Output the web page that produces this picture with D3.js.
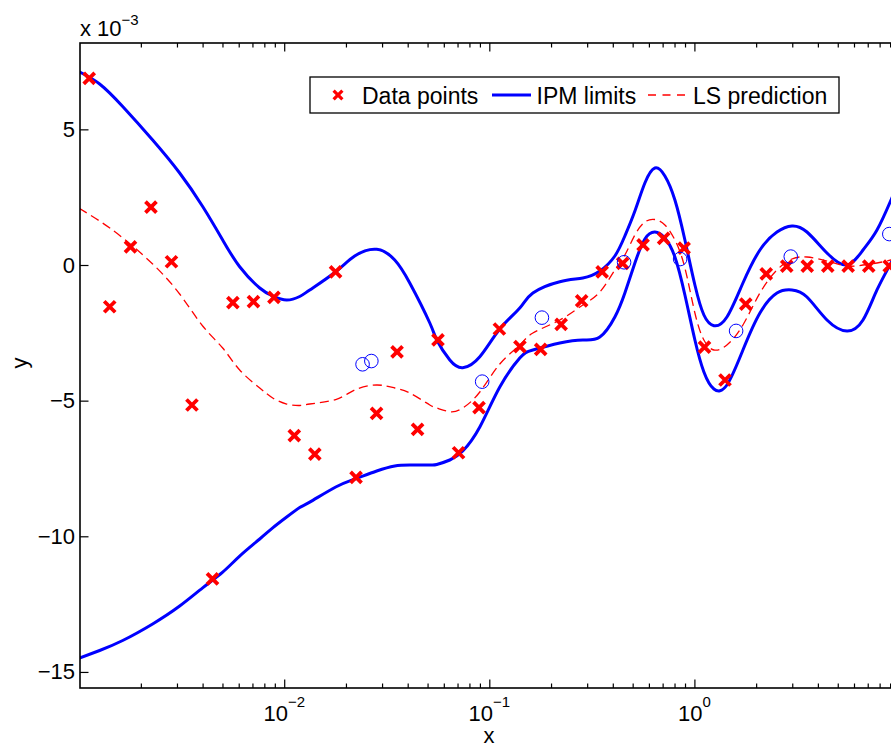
<!DOCTYPE html>
<html>
<head>
<meta charset="utf-8">
<script src="https://cdn.jsdelivr.net/npm/d3@7"></script>
<style>
  body { margin: 0; background: #fff; }
  svg { display: block; }
  text { font-family: "Liberation Sans", Arial, Helvetica, sans-serif; fill: #000; }
</style>
</head>
<body>
<svg id="chart" width="891" height="744"></svg>
<script>
// ---- data (y values in units of 10^-3) ----
const pointX = [0.00112, 0.00141, 0.00178, 0.00224, 0.00282, 0.00355, 0.00447, 0.00562, 0.00708, 0.00891,
                0.0112, 0.0141, 0.0178, 0.0224, 0.0282, 0.0355, 0.0447, 0.0562, 0.0708, 0.0891,
                0.112, 0.141, 0.178, 0.224, 0.282, 0.355, 0.447, 0.562, 0.708, 0.891,
                1.12, 1.41, 1.78, 2.24, 2.82, 3.55, 4.47, 5.62, 7.08, 8.91];
const pointY = [6.88, -1.54, 0.67, 2.13, 0.12, -5.16, -11.57, -1.39, -1.35, -1.19,
                -6.29, -6.97, -0.25, -7.83, -5.47, -3.20, -6.06, -2.76, -6.92, -5.26,
                -2.36, -3.01, -3.11, -2.19, -1.32, -0.25, 0.06, 0.74, 0.98, 0.62,
                -3.03, -4.24, -1.44, -0.33, -0.04, -0.04, -0.04, -0.04, -0.04, -0.04];

const circleX = [0.0241, 0.0266, 0.0923, 0.1805, 0.454, 0.852, 1.597, 2.95, 8.92];
const circleY = [-3.66, -3.54, -4.30, -1.94, 0.10, 0.22, -2.43, 0.31, 1.14];

const curveX = [0.001, 0.001259, 0.001631, 0.002283, 0.003092, 0.004003, 0.005012, 0.006066, 0.007597, 0.008789,
                0.01028, 0.0119, 0.01332, 0.01783, 0.02207, 0.02826, 0.03459, 0.04094, 0.05127, 0.05545,
                0.06418, 0.07425, 0.08989, 0.1125, 0.1408, 0.1631, 0.2207, 0.2858, 0.3459, 0.4094,
                0.4581, 0.5127, 0.5735, 0.6418, 0.7179, 0.8034, 0.8989, 1.0056, 1.1125, 1.2448,
                1.4405, 1.7243, 2.0867, 2.5264, 2.9898, 3.5383, 4.4299, 5.5454, 6.6374, 7.7661,
                9.0888, 10];
const ipmUpper = [7.125, 6.672, 5.842, 4.607, 3.391, 2.156, 0.921, -0.063, -0.848, -1.143,
                  -1.290, -1.161, -0.921, -0.247, 0.332, 0.579, 0.184, -0.663, -2.138, -2.764,
                  -3.502, -3.785, -3.380, -2.359, -1.585, -1.032, -0.616, -0.479, -0.221, 0.332,
                  1.069, 1.990, 3.022, 3.575, 3.280, 2.396, 0.921, -0.737, -1.843, -2.237,
                  -1.917, -0.663, 0.553, 1.216, 1.438, 1.216, 0.442, 0.000, 0.553, 1.290,
                  2.396, 3.133];
const ipmLower = [-14.497, -14.21, -13.84, -13.23, -12.57, -11.90, -11.32, -10.73, -10.10, -9.69,
                  -9.29, -8.94, -8.74, -8.183, -7.888, -7.593, -7.409, -7.372, -7.372, -7.354,
                  -7.188, -6.856, -5.971, -4.497, -3.428, -3.133, -2.875, -2.764, -2.654, -1.917,
                  -1.032, 0.074, 0.958, 1.216, 0.995, 0.295, -1.106, -2.764, -3.944, -4.571,
                  -4.423, -3.133, -1.769, -1.032, -0.921, -1.180, -2.027, -2.433, -2.027, -0.921,
                  0.074, 0.737];
const lsPrediction = [2.090, 1.62, 1.00, 0.037, -1.069, -2.248, -3.059, -3.870, -4.534, -4.902,
                      -5.124, -5.179, -5.124, -4.958, -4.607, -4.423, -4.534, -4.718, -5.160, -5.271,
                      -5.407, -5.271, -4.681, -3.649, -2.949, -2.506, -2.027, -1.474, -0.995, -0.184,
                      0.369, 1.106, 1.585, 1.677, 1.474, 0.921, -0.111, -1.769, -2.764, -3.133,
                      -2.949, -2.212, -1.032, -0.184, 0.221, 0.295, 0.147, -0.037, 0.000, 0.074,
                      0.184, 0.258];

const yTickValues = [-15, -10, -5, 0, 5];
const xMajorTicks = [0.01, 0.1, 1];
const xTickExponents = ["\u22122", "\u22121", "0"];
const legendLabels = ["Data points", "IPM limits", "LS prediction"];

// ---- layout ----
const svg = d3.select("#chart");
const L = 80, R = 899.5, T = 43, B = 688;

const x = d3.scaleLog().domain([1.01e-3, 10]).range([L, R]);
const y = d3.scaleLinear().domain([-15.592, 8.183]).range([B, T]);

svg.append("rect").attr("width", 891).attr("height", 744).attr("fill", "#fff");

svg.append("defs").append("clipPath").attr("id", "plotClip")
  .append("rect").attr("x", L).attr("y", T).attr("width", R - L).attr("height", B - T);

// ---- axes (ticks pointing inward, boxed) ----
const minorTicks = x.ticks().filter(v => Math.abs(Math.log10(v) - Math.round(Math.log10(v))) > 1e-9);

function styleAxis(g) {
  g.select(".domain").remove();
  g.selectAll(".tick line").attr("stroke", "#000").attr("stroke-width", 1.2);
}

svg.append("g").attr("transform", `translate(0,${B})`)
  .call(d3.axisBottom(x).tickValues(minorTicks).tickSize(-4.5).tickFormat(""))
  .call(styleAxis);
svg.append("g").attr("transform", `translate(0,${B})`)
  .call(d3.axisBottom(x).tickValues(xMajorTicks).tickSize(-8.5).tickFormat(""))
  .call(styleAxis);
svg.append("g").attr("transform", `translate(0,${T})`)
  .call(d3.axisTop(x).tickValues(minorTicks).tickSize(-4.5).tickFormat(""))
  .call(styleAxis);
svg.append("g").attr("transform", `translate(0,${T})`)
  .call(d3.axisTop(x).tickValues(xMajorTicks).tickSize(-8.5).tickFormat(""))
  .call(styleAxis);

const yAxisG = svg.append("g").attr("transform", `translate(${L},0)`)
  .call(d3.axisLeft(y).tickValues(yTickValues).tickSize(-8.5).tickPadding(5)
    .tickFormat(d => d < 0 ? "\u2212" + Math.abs(d) : String(d)))
  .call(styleAxis);
yAxisG.selectAll(".tick text")
  .attr("font-size", 22).attr("fill", "#000")
  .attr("font-family", "'Liberation Sans', Arial, Helvetica, sans-serif");

svg.append("g").attr("transform", `translate(${R},0)`)
  .call(d3.axisRight(y).tickValues(yTickValues).tickSize(-8.5).tickFormat(""))
  .call(styleAxis);

// x tick labels: 10 with superscript exponent
xMajorTicks.forEach((v, i) => {
  const t = svg.append("text")
    .attr("x", x(v)).attr("y", 721)
    .attr("text-anchor", "middle")
    .attr("font-size", 22);
  t.append("tspan").text("10");
  t.append("tspan").attr("dy", -14).attr("font-size", 15).text(xTickExponents[i]);
});

// exponent multiplier above the y axis
const mult = svg.append("text").attr("x", L).attr("y", 36).attr("font-size", 22);
mult.append("tspan").text("x 10");
mult.append("tspan").attr("dy", -11).attr("font-size", 15).text("\u22123");

// axis labels
svg.append("text").attr("x", 489).attr("y", 743).attr("text-anchor", "middle")
  .attr("font-size", 22).text("x");
svg.append("text").attr("transform", "translate(27,363) rotate(-90)")
  .attr("text-anchor", "middle").attr("font-size", 22).text("y");

// ---- curves ----
const plot = svg.append("g").attr("clip-path", "url(#plotClip)");
const line = d3.line()
  .x(d => x(d[0])).y(d => y(d[1]))
  .curve(d3.curveNatural);

const upperPts = curveX.map((v, i) => [v, ipmUpper[i]]);
const lowerPts = curveX.map((v, i) => [v, ipmLower[i]]);
const lsPts = curveX.map((v, i) => [v, lsPrediction[i]]);

[upperPts, lowerPts].forEach(pts => {
  plot.append("path").attr("d", line(pts))
    .attr("fill", "none").attr("stroke", "#0000ff").attr("stroke-width", 3)
    .attr("stroke-linejoin", "round");
});
plot.append("path").attr("d", line(lsPts))
  .attr("fill", "none").attr("stroke", "#ff0000").attr("stroke-width", 1.3)
  .attr("stroke-dasharray", "9,5");

// ---- markers ----
const crossPath = "M-5.5,-5.5L5.5,5.5M-5.5,5.5L5.5,-5.5";
plot.selectAll("path.pt").data(pointX.map((v, i) => [v, pointY[i]]))
  .enter().append("path").attr("class", "pt")
  .attr("transform", d => `translate(${x(d[0])},${y(d[1])})`)
  .attr("d", crossPath)
  .attr("stroke", "#ff0000").attr("stroke-width", 3.8).attr("fill", "none");

plot.selectAll("circle.ck").data(circleX.map((v, i) => [v, circleY[i]]))
  .enter().append("circle").attr("class", "ck")
  .attr("cx", d => x(d[0])).attr("cy", d => y(d[1])).attr("r", 6.8)
  .attr("fill", "none").attr("stroke", "#0000ff").attr("stroke-width", 1);

// ---- frame ----
svg.append("rect").attr("x", L).attr("y", T).attr("width", R - L).attr("height", B - T)
  .attr("fill", "none").attr("stroke", "#000").attr("stroke-width", 1.6);

// ---- legend ----
const lg = svg.append("g");
lg.append("rect").attr("x", 310).attr("y", 77).attr("width", 529).attr("height", 36)
  .attr("fill", "#fff").attr("stroke", "#000").attr("stroke-width", 1.3);
lg.append("path").attr("d", crossPath).attr("transform", "translate(338,95) scale(0.8)")
  .attr("stroke", "#ff0000").attr("stroke-width", 4).attr("fill", "none");
lg.append("text").attr("x", 362).attr("y", 103.5).attr("font-size", 23).text(legendLabels[0]);
lg.append("line").attr("x1", 492).attr("x2", 531).attr("y1", 95).attr("y2", 95)
  .attr("stroke", "#0000ff").attr("stroke-width", 3);
lg.append("text").attr("x", 536.5).attr("y", 103.5).attr("font-size", 23).text(legendLabels[1]);
lg.append("line").attr("x1", 648).attr("x2", 689).attr("y1", 95).attr("y2", 95)
  .attr("stroke", "#ff0000").attr("stroke-width", 1.3).attr("stroke-dasharray", "8,6.5");
lg.append("text").attr("x", 693).attr("y", 103.5).attr("font-size", 23).text(legendLabels[2]);
</script>
</body>
</html>
